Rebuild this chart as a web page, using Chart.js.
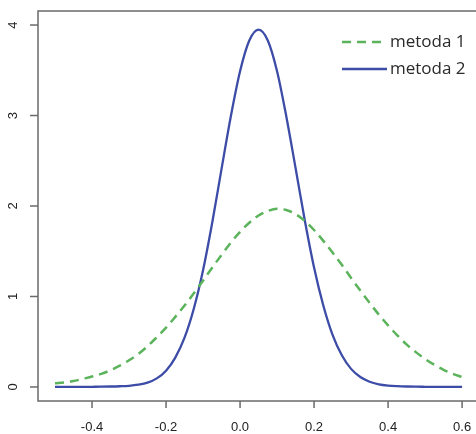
<!DOCTYPE html>
<html>
<head>
<meta charset="utf-8">
<script src="https://cdn.jsdelivr.net/npm/chart.js@4.4.0/dist/chart.umd.min.js"></script>
<style>
  html, body { margin: 0; padding: 0; background: #fff; overflow: hidden; }
  #wrap { position: relative; width: 490px; height: 434px; }
</style>
</head>
<body>
<div id="wrap"><canvas id="density" width="490" height="434"></canvas></div>
<script>
const xValues = [
  -0.5, -0.475, -0.45, -0.425, -0.4, -0.375, -0.35, -0.325, -0.3, -0.275,
  -0.25, -0.225, -0.2, -0.175, -0.15, -0.125, -0.1, -0.075, -0.05, -0.025,
  0, 0.025, 0.05, 0.075, 0.1, 0.125, 0.15, 0.175, 0.2, 0.225,
  0.25, 0.275, 0.3, 0.325, 0.35, 0.375, 0.4, 0.425, 0.45, 0.475,
  0.5, 0.525, 0.55, 0.575, 0.6
];
const metoda1 = [
  0.04, 0.05, 0.065, 0.09, 0.115, 0.145, 0.185, 0.235, 0.295, 0.365,
  0.45, 0.55, 0.655, 0.775, 0.9, 1.035, 1.175, 1.32, 1.46, 1.595,
  1.715, 1.815, 1.895, 1.945, 1.97, 1.955, 1.91, 1.835, 1.735, 1.615,
  1.485, 1.35, 1.205, 1.065, 0.93, 0.8, 0.68, 0.57, 0.47, 0.385,
  0.31, 0.245, 0.19, 0.145, 0.11
];
const metoda2 = [
  0, 0, 0, 0.001, 0.002, 0.003, 0.005, 0.008, 0.013, 0.025,
  0.048, 0.095, 0.18, 0.325, 0.545, 0.865, 1.29, 1.82, 2.41, 2.99,
  3.49, 3.83, 3.95, 3.83, 3.49, 2.99, 2.42, 1.84, 1.32, 0.9,
  0.575, 0.35, 0.2, 0.11, 0.058, 0.03, 0.016, 0.009, 0.005, 0.003,
  0.002, 0.001, 0.001, 0, 0
];
const seriesNames = ['metoda 1', 'metoda 2'];
const xTicks = [-0.4, -0.2, 0.0, 0.2, 0.4, 0.6];
const yTicks = [0, 1, 2, 3, 4];

const toPoints = ys => xValues.map((x, i) => ({ x: x, y: ys[i] }));

// R-style box, ticks, labels and legend
const rStyle = {
  id: 'rStyle',
  afterDraw(chart) {
    const ctx = chart.ctx;
    const a = chart.chartArea;
    const sx = chart.scales.x;
    const sy = chart.scales.y;
    ctx.save();
    ctx.strokeStyle = '#6a6a6a';
    ctx.lineWidth = 1.5;
    ctx.strokeRect(a.left, a.top, a.right - a.left, a.bottom - a.top);

    ctx.fillStyle = '#222';
    ctx.font = '13px "Liberation Sans", Arial, sans-serif';
    ctx.textAlign = 'center';
    ctx.textBaseline = 'middle';
    xTicks.forEach(v => {
      const px = sx.getPixelForValue(v);
      ctx.beginPath();
      ctx.moveTo(px, a.bottom);
      ctx.lineTo(px, a.bottom + 7);
      ctx.stroke();
      ctx.fillText(v.toFixed(1), px, 427);
    });
    yTicks.forEach(v => {
      const py = sy.getPixelForValue(v);
      ctx.beginPath();
      ctx.moveTo(a.left, py);
      ctx.lineTo(a.left - 8, py);
      ctx.stroke();
      ctx.save();
      ctx.translate(13, py);
      ctx.rotate(-Math.PI / 2);
      ctx.fillText(String(v), 0, 0);
      ctx.restore();
    });

    // legend
    ctx.font = '17px "Open Sans", sans-serif';
    ctx.textAlign = 'left';
    chart.data.datasets.forEach((ds, i) => {
      const ly = 42 + i * 27;
      ctx.strokeStyle = ds.borderColor;
      ctx.lineWidth = ds.borderWidth;
      ctx.setLineDash(ds.borderDash || []);
      ctx.beginPath();
      ctx.moveTo(342, ly);
      ctx.lineTo(387, ly);
      ctx.stroke();
      ctx.setLineDash([]);
      ctx.fillStyle = '#2a2a2a';
      ctx.fillText(ds.label, 390, ly);
    });
    ctx.restore();
  }
};

new Chart(document.getElementById('density'), {
  type: 'line',
  data: {
    datasets: [
      {
        label: seriesNames[0],
        data: toPoints(metoda1),
        borderColor: '#5bb35b',
        borderWidth: 2.5,
        borderDash: [9, 6],
        pointRadius: 0,
        cubicInterpolationMode: 'monotone',
        fill: false
      },
      {
        label: seriesNames[1],
        data: toPoints(metoda2),
        borderColor: '#3d4ca6',
        borderWidth: 2.3,
        pointRadius: 0,
        cubicInterpolationMode: 'monotone',
        fill: false
      }
    ]
  },
  options: {
    responsive: false,
    animation: false,
    layout: {
      padding: { left: 38, top: 11, right: 12, bottom: 33 }
    },
    plugins: {
      legend: { display: false },
      tooltip: { enabled: false }
    },
    scales: {
      x: { type: 'linear', min: -0.546, max: 0.643, display: false },
      y: { type: 'linear', min: -0.155, max: 4.155, display: false }
    }
  },
  plugins: [rStyle]
});
</script>
</body>
</html>
